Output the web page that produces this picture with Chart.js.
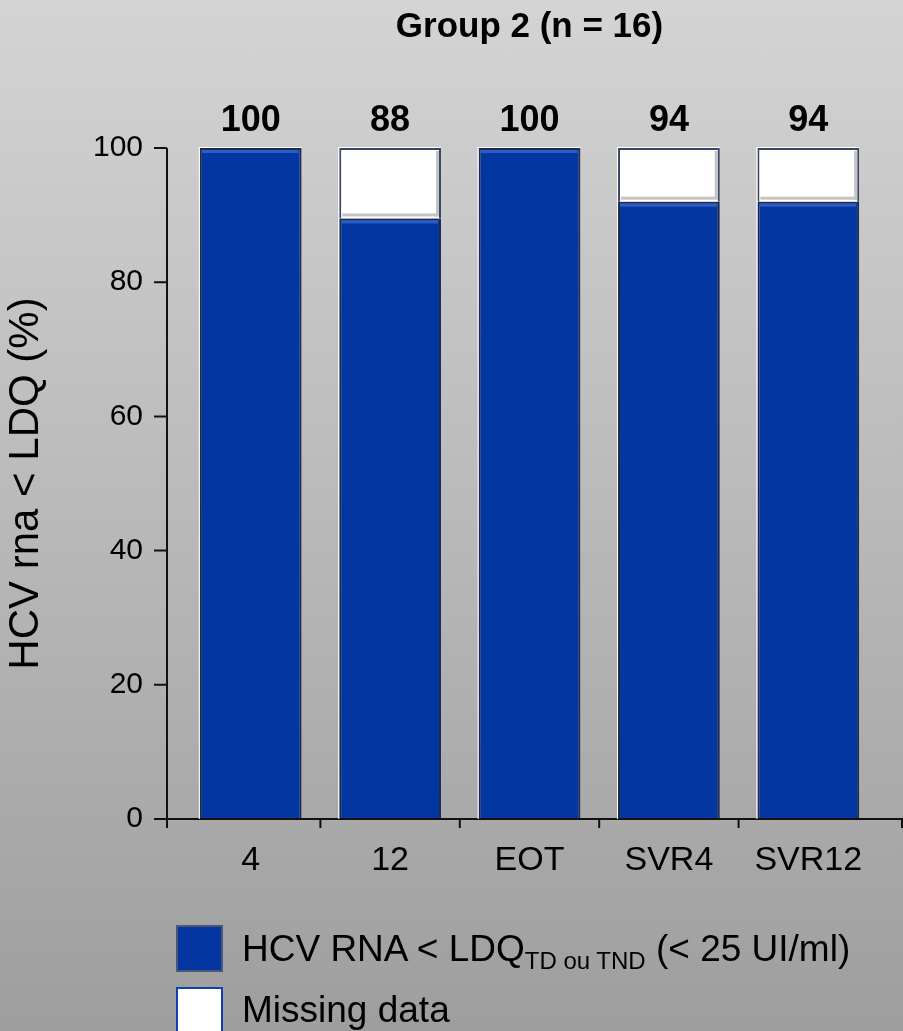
<!DOCTYPE html>
<html>
<head>
<meta charset="utf-8">
<script src="https://cdn.jsdelivr.net/npm/chart.js@4"></script>
<style>
	html, body { margin: 0; padding: 0; }
	body
	{
		width: 903px;
		height: 1031px;
		overflow: hidden;
		position: relative;
		background: linear-gradient(to bottom, #d4d4d4 0%, #9e9e9e 100%);
		font-family: "Liberation Sans", Arial, sans-serif;
	}
	#chart { position: absolute; left: 0; top: 0; }
	.legend-box { position: absolute; left: 176px; width: 43px; height: 43px; }
	.legend-text { position: absolute; left: 242px; font-size: 37px; line-height: 40px; color: #000; white-space: nowrap; }
	.legend-text sub { font-size: 24px; vertical-align: -8px; line-height: 0; }
</style>
</head>
<body>
<canvas id="chart" width="903" height="1031"></canvas>

<div class="legend-box" style="top: 925px; background: #0336a0; border: 2px solid #4a5778;"></div>
<div class="legend-text" style="top: 929px;">HCV RNA &lt; LDQ<sub>TD ou TND</sub> (&lt; 25 UI/ml)</div>

<div class="legend-box" style="top: 987px; background: #ffffff; border: 2px solid #0f3fb0;"></div>
<div class="legend-text" style="top: 990px;">Missing data</div>

<script>
const categories = [ "4", "12", "EOT", "SVR4", "SVR12" ];
const undetectable = [ 100, 89.5, 100, 92, 92 ];
const missingData = [ 0, 10.5, 0, 8, 8 ];
const barLabels = [ "100", "88", "100", "94", "94" ];
const yTickValues = [ 0, 20, 40, 60, 80, 100 ];

Chart.defaults.font.family = "'Liberation Sans', Arial, sans-serif";
Chart.defaults.color = "#000";

// axis lines sit a bit left of the first bar, like in the slide
const axisLines =
{
	id: "axisLines",
	afterDatasetsDraw(chart)
	{
		const { ctx, chartArea, scales: { x, y } } = chart;
		const axisX = chartArea.left - 14;
		const bottom = y.getPixelForValue(0);

		ctx.save();
		ctx.strokeStyle = "#111";
		ctx.lineWidth = 2;
		ctx.beginPath();

		ctx.moveTo(axisX, y.getPixelForValue(100));
		ctx.lineTo(axisX, bottom);

		for(const v of yTickValues)
		{
			const py = y.getPixelForValue(v);
			ctx.moveTo(axisX - 13, py);
			ctx.lineTo(axisX, py);
		}

		ctx.moveTo(axisX, bottom);
		ctx.lineTo(chart.width, bottom);

		const half = (x.getPixelForValue(1) - x.getPixelForValue(0)) / 2;
		const xTicks = [ axisX, chart.width - 1 ];
		for(let i = 0; i < categories.length - 1; i++)
		{
			xTicks.push(x.getPixelForValue(i) + half);
		}
		for(const px of xTicks)
		{
			ctx.moveTo(px, bottom);
			ctx.lineTo(px, bottom + 9);
		}

		ctx.stroke();
		ctx.restore();
	}
};

// small bevel highlights on the bars
const barBevel =
{
	id: "barBevel",
	afterDatasetsDraw(chart)
	{
		const ctx = chart.ctx;

		chart.data.datasets.forEach((ds, di) =>
		{
			chart.getDatasetMeta(di).data.forEach((bar, i) =>
			{
				if(!ds.data[i])
				{
					return;
				}

				const { x, y, base, width } = bar.getProps([ "x", "y", "base", "width" ], true);
				const left = x - width / 2;

				ctx.save();
				ctx.fillStyle = "#ffffff";
				ctx.fillRect(left - 1, y - 1, 1, base - y + 1);
				if(di === 1 || missingData[i] === 0)
				{
					ctx.fillRect(left - 1, y - 1, width + 1, 1);
				}

				if(di === 0)
				{
					ctx.fillStyle = "#2d5cc8";
					ctx.fillRect(left + 2, y + 2, width - 5, 3);
				}
				else
				{
					ctx.fillStyle = "#c4c4c4";
					ctx.fillRect(x + width / 2 - 5, y + 3, 3, base - y - 5);
					ctx.fillRect(left + 3, base - 5, width - 6, 3);
				}
				ctx.restore();
			});
		});
	}
};

const barTopLabels =
{
	id: "barTopLabels",
	afterDraw(chart)
	{
		const { ctx, scales: { x, y } } = chart;

		ctx.save();
		ctx.fillStyle = "#000";
		ctx.font = "bold 36px 'Liberation Sans', Arial, sans-serif";
		ctx.textAlign = "center";
		ctx.textBaseline = "alphabetic";
		barLabels.forEach((label, i) =>
		{
			ctx.fillText(label, x.getPixelForValue(i), y.getPixelForValue(100) - 17);
		});
		ctx.restore();
	}
};

new Chart(document.getElementById("chart"),
{
	type: "bar",
	data:
	{
		labels: categories,
		datasets:
		[
			{
				label: "HCV RNA < LDQ",
				data: undetectable,
				backgroundColor: "#0336a0",
				borderColor: "#1e2a4a",
				borderWidth: 2
			},
			{
				label: "Missing data",
				data: missingData,
				backgroundColor: "#ffffff",
				borderColor: "#3b4666",
				borderWidth: 2
			}
		]
	},
	options:
	{
		responsive: false,
		animation: false,
		barPercentage: 0.73,
		categoryPercentage: 1,
		layout: { padding: { left: 0, right: 25, top: 0, bottom: 0 } },
		plugins:
		{
			legend: { display: false },
			tooltip: { enabled: false },
			title:
			{
				display: true,
				fullSize: false,
				text: "Group 2 (n = 16)",
				color: "#000",
				font: { size: 35, weight: "bold" },
				padding: { top: 6, bottom: 100 }
			}
		},
		scales:
		{
			x:
			{
				stacked: true,
				grid: { display: false, drawTicks: false },
				border: { display: false },
				afterFit: scale => { scale.height = 212; },
				ticks: { padding: 21, font: { size: 34 }, color: "#000" }
			},
			y:
			{
				stacked: true,
				min: 0,
				max: 100,
				grid: { display: false, drawTicks: false },
				border: { display: false },
				afterFit: scale => { scale.width = 181; },
				ticks: { stepSize: 20, padding: 38, font: { size: 30 }, color: "#000" },
				title:
				{
					display: true,
					text: "HCV rna < LDQ (%)",
					color: "#000",
					font: { size: 42 },
					padding: { top: 1, bottom: 0 }
				}
			}
		}
	},
	plugins: [ axisLines, barBevel, barTopLabels ]
});
</script>
</body>
</html>
